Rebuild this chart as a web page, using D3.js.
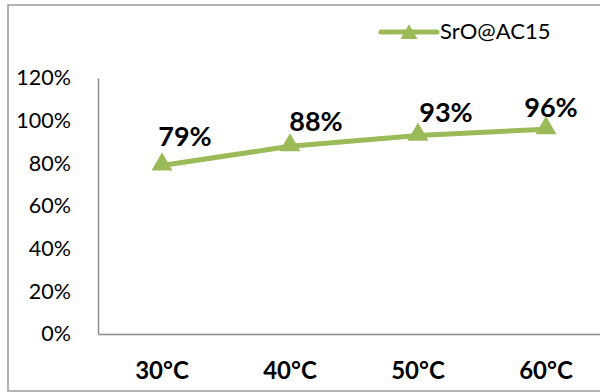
<!DOCTYPE html>
<html>
<head>
<meta charset="utf-8">
<script src="https://cdn.jsdelivr.net/npm/d3@7"></script>
<style>
  html, body { margin: 0; padding: 0; background: #fff; }
  svg { display: block; font-family: Lato, "Open Sans", sans-serif; }
</style>
</head>
<body>
<svg id="chart" width="600" height="392"></svg>
<script>
// ---- data ----
const categories = ["30°C", "40°C", "50°C", "60°C"];
const values = [0.79, 0.88, 0.93, 0.96];
const valueLabels = ["79%", "88%", "93%", "96%"];
const yTicks = [0, 0.2, 0.4, 0.6, 0.8, 1.0, 1.2];
const seriesName = "SrO@AC15";

// ---- drawing ----
const svg = d3.select("#chart");
const green = "#9BBB59";
const axisGray = "#8c8c8c";

// outer frame (extends past right edge)
svg.append("rect")
  .attr("x", 8).attr("y", 5)
  .attr("width", 640).attr("height", 386)
  .attr("fill", "none").attr("stroke", "#9a9a9a").attr("stroke-width", 1.5);

const x = d3.scaleBand().domain(categories).range([98, 610]);
const y = d3.scaleLinear().domain([0, 1.2]).range([334, 78]);

// y axis
const yAxis = d3.axisLeft(y).tickValues(yTicks).tickFormat(d3.format(".0%")).tickSize(0).tickPadding(27);
const yg = svg.append("g").attr("transform", "translate(98,0)").call(yAxis);
yg.select(".domain").attr("stroke", axisGray).attr("stroke-width", 1.5);
yg.selectAll("text").attr("font-family", "Lato, sans-serif").attr("font-size", 21.5).attr("fill", "#000");

// x axis
const xAxis = d3.axisBottom(x).tickSize(0).tickPadding(28);
const xg = svg.append("g").attr("transform", "translate(0,334)").call(xAxis);
xg.select(".domain").attr("stroke", axisGray).attr("stroke-width", 1.5);
xg.selectAll("text").attr("font-family", "Lato, sans-serif").attr("font-size", 24)
  .attr("font-weight", "bold").attr("fill", "#000");

// line
const pts = categories.map((c, i) => ({ c, v: values[i], label: valueLabels[i] }));
const line = d3.line().x(d => x(d.c) + x.bandwidth() / 2).y(d => y(d.v));
svg.append("path").datum(pts)
  .attr("d", line).attr("fill", "none")
  .attr("stroke", green).attr("stroke-width", 5).attr("stroke-linejoin", "round");

// markers
const tri = d3.symbol().type(d3.symbolTriangle).size(190);
svg.selectAll(".marker").data(pts).enter().append("path")
  .attr("class", "marker")
  .attr("d", tri)
  .attr("transform", d => `translate(${x(d.c) + x.bandwidth() / 2},${y(d.v) - 1})`)
  .attr("fill", green);

// data labels (manually nudged like the original)
const nudge = [[23, -19.5], [26, -15], [28, -13.5], [5, -12]];
svg.selectAll(".dlabel").data(pts).enter().append("text")
  .attr("class", "dlabel")
  .attr("x", (d, i) => x(d.c) + x.bandwidth() / 2 + nudge[i][0])
  .attr("y", (d, i) => y(d.v) + nudge[i][1])
  .attr("text-anchor", "middle")
  .attr("font-size", 27).attr("font-weight", "bold").attr("fill", "#000")
  .text(d => d.label);

// legend
const lg = svg.append("g");
lg.append("line").attr("x1", 381).attr("x2", 437).attr("y1", 32).attr("y2", 32)
  .attr("stroke", green).attr("stroke-width", 5).attr("stroke-linecap", "round");
lg.append("path").attr("d", d3.symbol().type(d3.symbolTriangle).size(125))
  .attr("transform", "translate(409,34)").attr("fill", green);
lg.append("text").attr("x", 440).attr("y", 39)
  .attr("font-size", 22).attr("fill", "#000").text(seriesName);
</script>
</body>
</html>
